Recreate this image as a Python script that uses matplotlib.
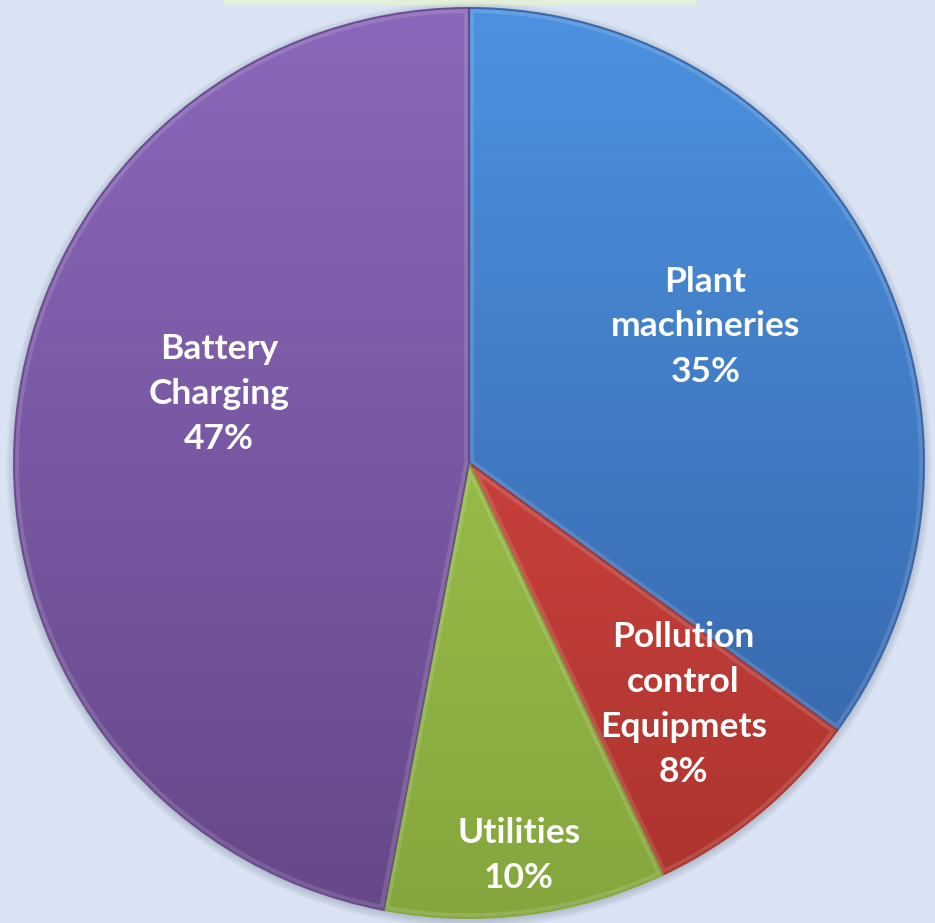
import matplotlib.pyplot as plt
import numpy as np
from matplotlib.colors import LinearSegmentedColormap
from matplotlib.patches import Rectangle, Circle, PathPatch

plt.rcParams['font.family'] = ['Lato', 'DejaVu Sans']

etiquetas = ['Plant\nmachineries', 'Pollution\ncontrol\nEquipmets', 'Utilities', 'Battery\nCharging']
valores = [35, 8, 10, 47]
# color arriba / color abajo de cada sector
colores_arriba = ['#4c92e0', '#e34e4a', '#aad053', '#8b68bb']
colores_abajo = ['#3461a3', '#ab332d', '#84a63d', '#664889']
# distancia radial de cada etiqueta (fraccion del radio) y ajuste de angulo
dist_etiq = [0.60, 0.71, 0.87, 0.57]
ajuste_ang = [3, 2, 0, -10]

W, H = 935, 923
cx, cy, R = 469, 460, 455

fig = plt.figure(figsize=(W / 100, H / 100), dpi=100)
fig.patch.set_facecolor('#dae3f3')
ax = fig.add_axes([0, 0, 1, 1])

# franja verde de arriba
ax.add_patch(Rectangle((223, H - 4), 473, 4, color='#e2efd9', zorder=1))

# sombra suave
for k in range(8):
    ax.add_patch(Circle((cx, cy - 2), R + 1 + k, color='#5a6a80', alpha=0.035, lw=0, zorder=1))

wedges, _ = ax.pie(valores, center=(cx, cy), radius=R, startangle=90, counterclock=False,
                   colors=colores_arriba, frame=True,
                   wedgeprops=dict(edgecolor='none', linewidth=0))

grad = np.linspace(1, 0, 256).reshape(-1, 1)
for w, c1, c2 in zip(wedges, colores_arriba, colores_abajo):
    w.set_zorder(2)
    cmap = LinearSegmentedColormap.from_list('g', [c2, c1])
    im = ax.imshow(grad, cmap=cmap, extent=(cx - R, cx + R, cy - R, cy + R),
                   origin='upper', aspect='auto', zorder=3, vmin=0, vmax=1)
    im.set_clip_path(w)
    # brillo interior y borde del sector
    brillo = PathPatch(w.get_path(), transform=w.get_transform(), fill=False,
                       edgecolor='white', lw=7, alpha=0.13, zorder=4)
    ax.add_patch(brillo)
    brillo.set_clip_path(w)
    ax.add_patch(PathPatch(w.get_path(), transform=w.get_transform(), fill=False,
                           edgecolor=c2, lw=1.5, alpha=0.9, zorder=4))

ax.set_xlim(0, W)
ax.set_ylim(0, H)
ax.set_aspect('equal')
ax.axis('off')

for w, txt, v, d, a in zip(wedges, etiquetas, valores, dist_etiq, ajuste_ang):
    ang = np.deg2rad((w.theta1 + w.theta2) / 2 + a)
    x = cx + d * R * np.cos(ang)
    y = cy + d * R * np.sin(ang)
    ax.text(x, y, f'{txt}\n{v}%', ha='center', va='center', color='white',
            fontsize=25.5, fontweight='bold', linespacing=1.5, zorder=5)

fig.savefig('out.png', dpi=100, facecolor=fig.get_facecolor())
